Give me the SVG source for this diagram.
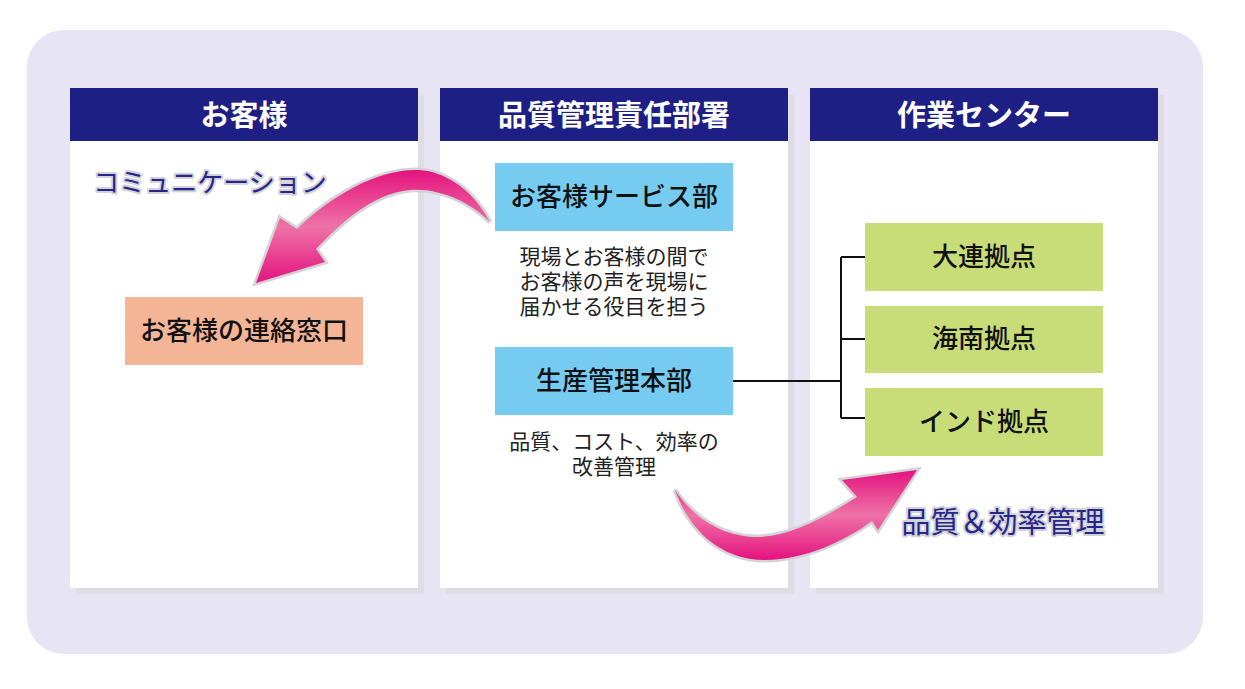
<svg xmlns="http://www.w3.org/2000/svg" width="1245" height="689" viewBox="0 0 1245 689">
<defs>
<style>
text{font-family:"Noto Sans CJK JP","Noto Sans CJK SC",sans-serif;}
.hd{fill:#ffffff;font-size:29px;font-weight:bold;text-anchor:middle;}
.lbl{fill:#111111;font-size:26px;font-weight:500;text-anchor:middle;}
.desc{fill:#222222;font-size:21px;text-anchor:middle;}
.glow{fill:#25258a;stroke:#d2d2d8;stroke-width:4px;paint-order:stroke;stroke-linejoin:round;}
.panel{fill:#ffffff;}
.shadow{fill:#dedde3;}
.head{fill:#1e1f85;}
.conn{fill:none;stroke:#111111;stroke-width:2;}
.arrow{fill:url(#pg);stroke:#d4d4d6;stroke-width:5;stroke-linejoin:miter;paint-order:stroke;}
</style>
<linearGradient id="pg" x1="0" y1="0" x2="0" y2="1">
<stop offset="0" stop-color="#e4137f"/>
<stop offset="0.5" stop-color="#ee72a6"/>
<stop offset="1" stop-color="#e4137f"/>
</linearGradient>
</defs>
<rect x="27" y="30" width="1176" height="624" rx="37" ry="37" fill="#e7e5f3"/>
<g id="panel-customer">
<rect class="shadow" x="76" y="95" width="348" height="499"/>
<rect class="panel" x="70" y="88" width="348" height="500"/>
<rect class="head" x="70" y="88" width="348" height="53"/>
<text class="hd" x="244" y="126">お客様</text>
</g>
<g id="panel-qa">
<rect class="shadow" x="446" y="95" width="348" height="499"/>
<rect class="panel" x="440" y="88" width="348" height="500"/>
<rect class="head" x="440" y="88" width="348" height="53"/>
<text class="hd" x="614" y="126">品質管理責任部署</text>
</g>
<g id="panel-work">
<rect class="shadow" x="816" y="95" width="348" height="499"/>
<rect class="panel" x="810" y="88" width="348" height="500"/>
<rect class="head" x="810" y="88" width="348" height="53"/>
<text class="hd" x="984" y="126">作業センター</text>
</g>
<g id="connectors">
<path class="conn" d="M733,381 H841 M841,257 V418 M841,257 H865 M841,339 H865 M841,418 H865"/>
<path id="arrow-comm" class="arrow" d="M256,283 L280,218 L297,229 C335,192 390,162 432,172 C460,180 478,200 490,222 C470,202 440,188 410,190 C372,194 342,222 316,249 L325,262 Z"/>
<path id="arrow-quality" class="arrow" d="M917,470 L842,480 L857,497 C822,519 792,535 760,537 C722,538 692,516 675,490 C690,532 722,560 765,560 C806,560 846,540 872,521 L878,530 Z"/>
</g>
<g id="label-comm"><text class="glow" x="210" y="192" font-size="26" text-anchor="middle">コミュニケーション</text></g>
<g id="label-quality"><text class="glow" x="1003" y="533" font-size="29" text-anchor="middle">品質＆効率管理</text></g>
<g id="node-contact">
<rect x="125" y="297" width="238" height="68" fill="#f4b596"/>
<text class="lbl" x="244" y="340">お客様の連絡窓口</text>
</g>
<g id="node-cs">
<rect x="495" y="163" width="238" height="68" fill="#76cbf0"/>
<text class="lbl" x="614" y="206">お客様サービス部</text>
</g>
<g id="desc-cs">
<text class="desc" x="614" y="264">現場とお客様の間で</text>
<text class="desc" x="614" y="289">お客様の声を現場に</text>
<text class="desc" x="614" y="314">届かせる役目を担う</text>
</g>
<g id="node-prod">
<rect x="495" y="347" width="238" height="68" fill="#76cbf0"/>
<text class="lbl" x="614" y="390">生産管理本部</text>
</g>
<g id="desc-prod">
<text class="desc" x="614" y="449">品質、コスト、効率の</text>
<text class="desc" x="614" y="474">改善管理</text>
</g>
<g id="node-dalian">
<rect x="865" y="223" width="238" height="68" fill="#c8dc77"/>
<text class="lbl" x="984" y="266">大連拠点</text>
</g>
<g id="node-hainan">
<rect x="865" y="306" width="238" height="67" fill="#c8dc77"/>
<text class="lbl" x="984" y="348">海南拠点</text>
</g>
<g id="node-india">
<rect x="865" y="388" width="238" height="68" fill="#c8dc77"/>
<text class="lbl" x="984" y="431">インド拠点</text>
</g>
</svg>
